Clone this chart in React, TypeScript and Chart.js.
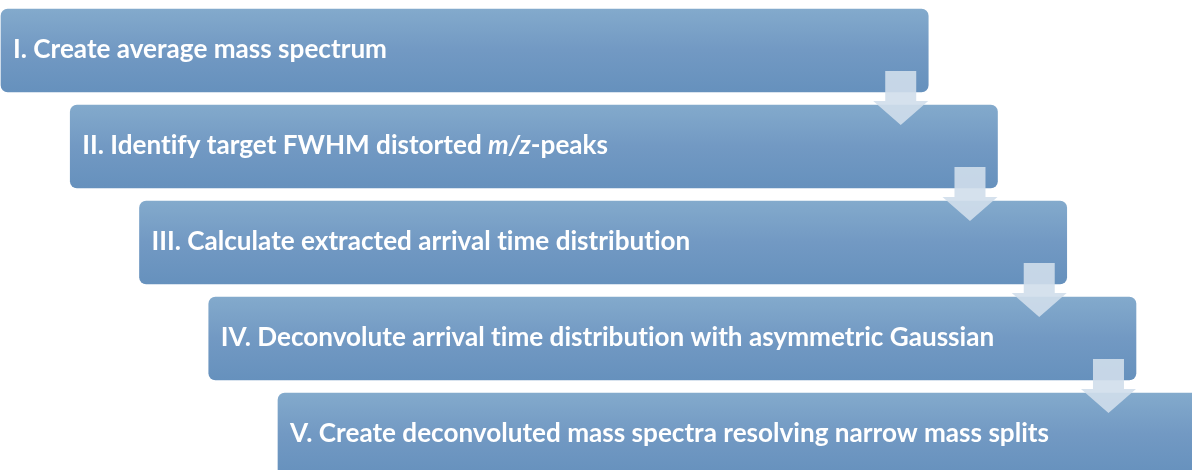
import React, { useEffect, useRef } from "react";
import { Chart, registerables } from "chart.js";

Chart.register(...registerables);

// Workflow steps (text between * * is italic)
const steps: string[] = [
  "I. Create average mass spectrum",
  "II. Identify target FWHM distorted *m/z*-peaks",
  "III. Calculate extracted arrival time distribution",
  "IV. Deconvolute arrival time distribution with asymmetric Gaussian",
  "V. Create deconvoluted mass spectra resolving narrow mass splits",
];
// Indentation level of each step (in step units) and its length
const stepLevel: number[] = [0, 1, 2, 3, 4];
const stepLength: number[] = [13.39, 13.39, 13.39, 13.39, 13.39];
const stepRow: number[] = [0, 1, 2, 3, 4];

const FONT = "Lato, 'Open Sans', sans-serif";

function splitSegments(t: string) {
  const parts = t.split("*");
  return parts.map((p, i) => ({ text: p, italic: i % 2 === 1 }));
}

const flowPlugin = {
  id: "flow",
  afterDatasetsDraw(chart: any) {
    const ctx: any = chart.ctx;
    const meta = chart.getDatasetMeta(0);
    const els = meta.data.map((e: any) => e.getProps(["x", "y", "base", "height"], true));
    ctx.save();
    // arrows
    for (let i = 0; i < els.length - 1; i++) {
      const b = els[i];
      const n = els[i + 1];
      const top = b.y - b.height / 2;
      const bottom = b.y + b.height / 2;
      const right = Math.max(b.x, b.base);
      const nTop = n.y - n.height / 2;
      const cx = right - 27.5;
      const sw = 15.5;
      const hw = 27.5;
      const shaftTop = top + 62;
      const headTop = bottom + 9;
      const tip = nTop + 20;
      ctx.beginPath();
      ctx.moveTo(cx - sw, shaftTop);
      ctx.lineTo(cx + sw, shaftTop);
      ctx.lineTo(cx + sw, headTop);
      ctx.lineTo(cx + hw, headTop);
      ctx.lineTo(cx, tip);
      ctx.lineTo(cx - hw, headTop);
      ctx.lineTo(cx - sw, headTop);
      ctx.closePath();
      ctx.fillStyle = "rgba(208,222,235,0.9)";
      ctx.fill();
    }
    // text
    try {
      ctx.textRendering = "optimizeSpeed";
    } catch (e) {}
    ctx.font = `bold 100px ${FONT}`;
    const w1 = ctx.measureText(steps[0]).width;
    const size = (100 * 374) / w1;
    ctx.fillStyle = "#ffffff";
    ctx.textBaseline = "alphabetic";
    els.forEach((b: any, i: number) => {
      const left = Math.min(b.x, b.base);
      let x = left + 12;
      const y = b.y + 7.5;
      splitSegments(steps[i]).forEach((s) => {
        ctx.font = `${s.italic ? "italic " : ""}bold ${size}px ${FONT}`;
        ctx.fillText(s.text, x, y);
        x += ctx.measureText(s.text).width;
      });
    });
    ctx.restore();
  },
};

export default function App() {
  const ref = useRef<HTMLCanvasElement | null>(null);
  useEffect(() => {
    document.body.style.margin = "0";
    if (!ref.current) return;
    const data = steps.map((_, i) => ({
      x: [stepLevel[i], stepLevel[i] + stepLength[i]],
      y: stepRow[i],
    }));
    const chart = new Chart(ref.current, {
      type: "bar",
      data: {
        datasets: [
          {
            label: "steps",
            data: data as any,
            barThickness: 83,
            borderRadius: 7,
            borderSkipped: false,
            borderWidth: 0,
            backgroundColor: (c: any) => {
              const ch = c.chart;
              const sy = ch.scales && ch.scales.y;
              if (!sy || c.dataIndex === undefined) return "#7099c2";
              const yc = sy.getPixelForValue(stepRow[c.dataIndex]);
              if (!Number.isFinite(yc)) return "#7099c2";
              const g = ch.ctx.createLinearGradient(0, yc - 41.5, 0, yc + 41.5);
              g.addColorStop(0, "#83aacc");
              g.addColorStop(0.5, "#7299c3");
              g.addColorStop(1, "#6691bd");
              return g;
            },
          },
        ],
      },
      options: {
        indexAxis: "y",
        animation: false,
        responsive: true,
        maintainAspectRatio: false,
        layout: { padding: 0 },
        plugins: { legend: { display: false }, tooltip: { enabled: false }, title: { display: false } },
        scales: {
          x: { type: "linear", offset: false, min: -0.0144, max: 17.199, display: false, grid: { display: false } },
          y: { type: "linear", offset: false, min: -0.526, max: 4.37, reverse: true, display: false, grid: { display: false, offset: false } },
        },
      },
      plugins: [flowPlugin],
    } as any);
    return () => chart.destroy();
  }, []);
  return (
    <div style={{ position: "fixed", left: 0, top: 0, width: 1192, height: 470, background: "#fff" }}>
      <canvas ref={ref} />
    </div>
  );
}
